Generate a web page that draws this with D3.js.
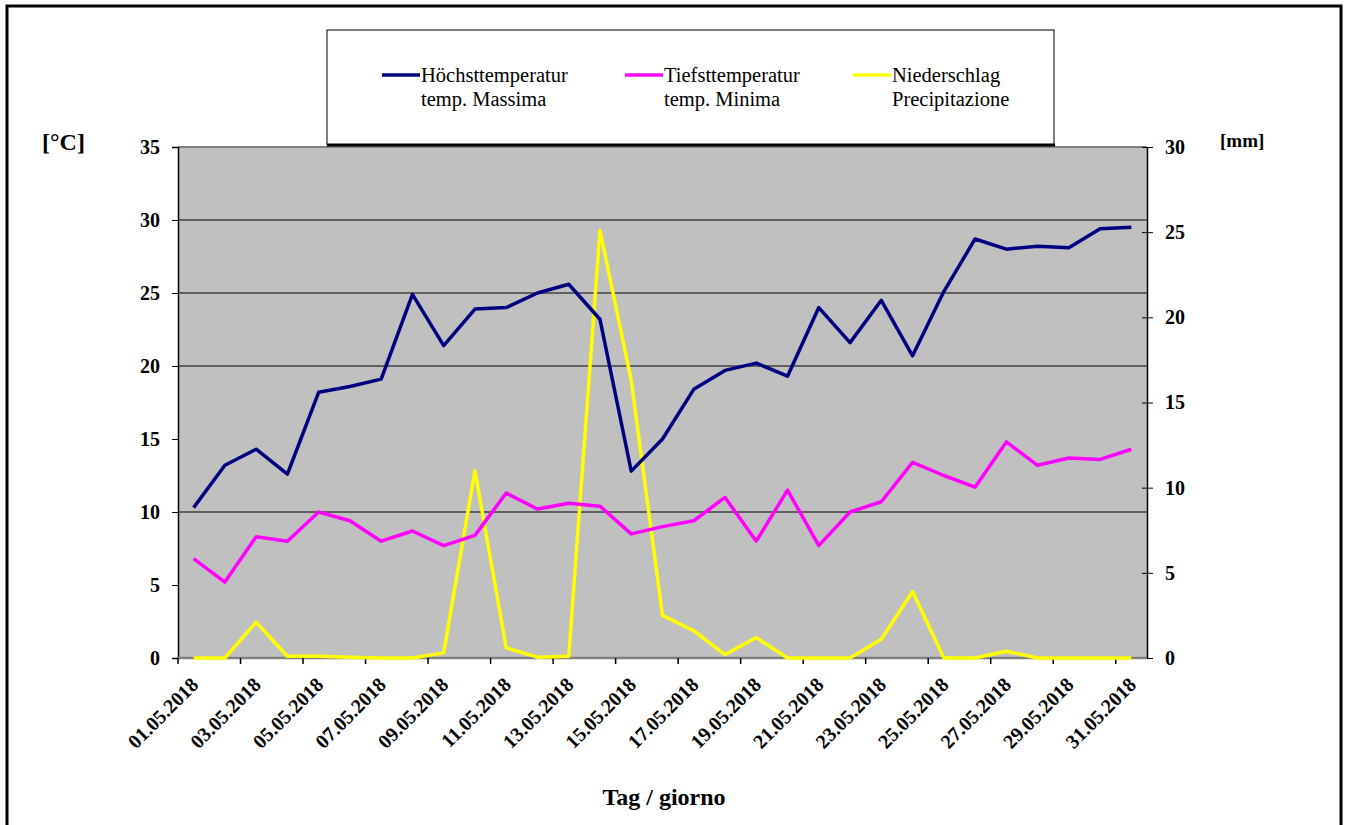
<!DOCTYPE html>
<html>
<head>
<meta charset="utf-8">
<script src="https://cdn.jsdelivr.net/npm/d3@7"></script>
<style>
  body { margin: 0; background: #fff; }
  svg { display: block; }
  svg text { font-family: "Liberation Serif", "Times New Roman", serif; }
</style>
</head>
<body>
<svg id="chart" width="1346" height="825"></svg>
<script>
// data
const days = d3.range(1, 32).map(d => String(d).padStart(2, "0") + ".05.2018");
const tMax = [10.3, 13.2, 14.3, 12.6, 18.2, 18.6, 19.1, 24.9, 21.4, 23.9,
              24.0, 25.0, 25.6, 23.2, 12.8, 15.0, 18.4, 19.7, 20.2, 19.3,
              24.0, 21.6, 24.5, 20.7, 25.1, 28.7, 28.0, 28.2, 28.1, 29.4, 29.5];
const tMin = [6.8, 5.2, 8.3, 8.0, 10.0, 9.4, 8.0, 8.7, 7.7, 8.4,
              11.3, 10.2, 10.6, 10.4, 8.5, 9.0, 9.4, 11.0, 8.0, 11.5,
              7.7, 10.0, 10.7, 13.4, 12.5, 11.7, 14.8, 13.2, 13.7, 13.6, 14.3];
const precip = [0, 0, 2.1, 0.1, 0.1, 0.05, 0, 0, 0.3, 11.0,
                0.6, 0.05, 0.1, 25.1, 16.3, 2.5, 1.6, 0.2, 1.2, 0,
                0, 0, 1.1, 3.9, 0, 0, 0.4, 0, 0, 0, 0];
const leftTicks = [0, 5, 10, 15, 20, 25, 30, 35];
const rightTicks = [0, 5, 10, 15, 20, 25, 30];
const gridValues = [10, 20, 25, 30];
const seriesNames = [
  ["Höchsttemperatur", "temp. Massima"],
  ["Tiefsttemperatur", "temp. Minima"],
  ["Niederschlag", "Precipitazione"]
];
const colors = ["#000080", "#ff00ff", "#ffff00"];

const svg = d3.select("#chart");
const plot = { left: 178, right: 1147, top: 147, bottom: 658 };

const x = d3.scaleBand().domain(days).range([plot.left, plot.right]).padding(0);
const yL = d3.scaleLinear().domain([0, 35]).range([plot.bottom, plot.top]);
const yR = d3.scaleLinear().domain([0, 30]).range([plot.bottom, plot.top]);
const cx = d => x(d) + x.bandwidth() / 2;

// outer frame
svg.append("rect")
  .attr("x", 7).attr("y", 6).attr("width", 1334).attr("height", 830)
  .attr("fill", "none").attr("stroke", "#000").attr("stroke-width", 3);

// plot background
svg.append("rect")
  .attr("x", plot.left).attr("y", plot.top)
  .attr("width", plot.right - plot.left).attr("height", plot.bottom - plot.top)
  .attr("fill", "#c0c0c0");
svg.append("line")
  .attr("x1", plot.left).attr("x2", plot.right)
  .attr("y1", plot.top).attr("y2", plot.top)
  .attr("stroke", "#808080").attr("stroke-width", 2);

// gridlines
svg.append("g").selectAll("line")
  .data(gridValues)
  .join("line")
  .attr("x1", plot.left).attr("x2", plot.right)
  .attr("y1", d => yL(d)).attr("y2", d => yL(d))
  .attr("stroke", "#000").attr("stroke-width", 1.2);

// left axis
const axL = svg.append("g")
  .attr("transform", `translate(${plot.left},0)`)
  .call(d3.axisLeft(yL).tickValues(leftTicks).tickSize(6).tickPadding(12));
axL.select(".domain").attr("stroke", "#000").attr("stroke-width", 1.5);
axL.selectAll("text").style("font-size", "20px").style("font-weight", "bold")
  .style("font-family", "Liberation Serif");

// right axis
const axR = svg.append("g")
  .attr("transform", `translate(${plot.right},0)`)
  .call(d3.axisRight(yR).tickValues(rightTicks).tickSizeInner(6).tickSizeOuter(0).tickPadding(12));
axR.selectAll(".tick line").attr("x1", -5);
axR.select(".domain").attr("stroke", "#000").attr("stroke-width", 1.5);
axR.selectAll("text").style("font-size", "20px").style("font-weight", "bold")
  .style("font-family", "Liberation Serif");

// bottom axis: ticks on category boundaries every 2 days
svg.append("line")
  .attr("x1", plot.left).attr("x2", plot.right)
  .attr("y1", plot.bottom).attr("y2", plot.bottom)
  .attr("stroke", "#808080").attr("stroke-width", 2.5);
const labelDays = days.filter((d, i) => i % 2 === 0);
svg.append("g").selectAll("line")
  .data(labelDays)
  .join("line")
  .attr("x1", d => x(d)).attr("x2", d => x(d))
  .attr("y1", plot.bottom).attr("y2", plot.bottom + 6)
  .attr("stroke", "#000").attr("stroke-width", 1.5);
svg.append("g").selectAll("text")
  .data(labelDays)
  .join("text")
  .attr("transform", d => `translate(${cx(d) + 6},${plot.bottom + 28}) rotate(-45)`)
  .attr("text-anchor", "end")
  .style("font-size", "20px")
  .style("font-weight", "bold")
  .text(d => d);

// lines
const lineL = d3.line().x((d, i) => cx(days[i])).y(d => yL(d));
const lineR = d3.line().x((d, i) => cx(days[i])).y(d => yR(d));
svg.append("path").datum(precip).attr("d", lineR)
  .attr("fill", "none").attr("stroke", colors[2]).attr("stroke-width", 3.5)
  .attr("stroke-linejoin", "round");
svg.append("path").datum(tMin).attr("d", lineL)
  .attr("fill", "none").attr("stroke", colors[1]).attr("stroke-width", 3.5)
  .attr("stroke-linejoin", "round");
svg.append("path").datum(tMax).attr("d", lineL)
  .attr("fill", "none").attr("stroke", colors[0]).attr("stroke-width", 3.5)
  .attr("stroke-linejoin", "round");

// axis titles
svg.append("text").attr("x", 42).attr("y", 150)
  .style("font-size", "24px").style("font-weight", "bold").text("[°C]");
svg.append("text").attr("x", 1220).attr("y", 147)
  .style("font-size", "19px").style("font-weight", "bold").text("[mm]");
svg.append("text").attr("x", 664).attr("y", 805).attr("text-anchor", "middle")
  .style("font-size", "24px").style("font-weight", "bold").text("Tag / giorno");

// legend
const lg = svg.append("g");
lg.append("rect").attr("x", 327).attr("y", 30).attr("width", 727).attr("height", 115)
  .attr("fill", "#fff").attr("stroke", "#000").attr("stroke-width", 1);
lg.append("line").attr("x1", 327).attr("x2", 1055).attr("y1", 145).attr("y2", 145)
  .attr("stroke", "#000").attr("stroke-width", 3);
const legX = [382, 625, 853];
seriesNames.forEach((names, i) => {
  lg.append("line")
    .attr("x1", legX[i]).attr("x2", legX[i] + 38)
    .attr("y1", 75).attr("y2", 75)
    .attr("stroke", colors[i]).attr("stroke-width", 3.5);
  names.forEach((t, j) => {
    lg.append("text")
      .attr("x", legX[i] + 39).attr("y", 82 + j * 24)
      .style("font-size", "20.5px")
      .text(t);
  });
});
</script>
</body>
</html>
